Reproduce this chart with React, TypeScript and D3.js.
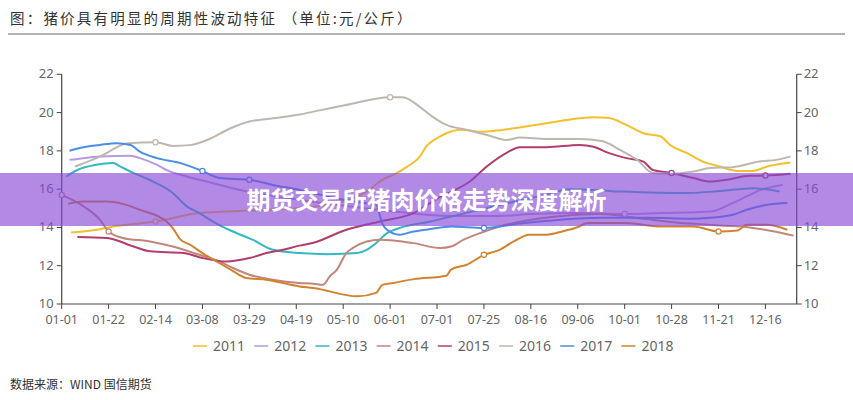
import React from 'react';
import * as d3 from 'd3';

const W = 853;
const H = 400;

// x axis: weekly category index, a label every 3 weeks
const dateLabels = ['01-01', '01-22', '02-14', '03-08', '03-29', '04-19', '05-10', '06-01',
  '07-01', '07-25', '08-16', '09-06', '10-01', '10-28', '11-21', '12-16'];
const labelStep = 3;
const lastWeek = 47;
const priceTicks = [10, 12, 14, 16, 18, 20, 22];

const years = ['2011', '2012', '2013', '2014', '2015', '2016', '2017', '2018'];
const colors = ['#f4c02c', '#b79be0', '#33b8c4', '#c3867a', '#b13e6b', '#bdb7af', '#4a8ee7', '#d2832e'];

// [week index, price yuan/kg]
const y2011: [number, number][] = [[0.6, 13.74], [2.45, 13.91], [3.3, 14.05], [6, 14.31], [8.8, 14.75], [13.1, 14.92],
  [16.3, 15.1], [19.5, 15.88], [20.5, 16.49], [21.2, 16.75], [22.1, 17.18], [22.9, 17.7], [23.3, 18.22], [24, 18.66],
  [24.6, 18.92], [25.5, 19.1], [26.8, 19.0], [27.8, 19.06], [28.9, 19.18], [31, 19.44], [33.1, 19.7], [34, 19.76],
  [35, 19.72], [36.1, 19.36], [37.2, 18.92], [38.3, 18.75], [38.9, 18.31], [40, 17.88], [41, 17.44], [42.1, 17.18],
  [43.2, 16.95], [44.2, 16.95], [45.1, 17.18], [46.6, 17.39]];
const y2012: [number, number][] = [[0.5, 17.53], [1.4, 17.62], [2.5, 17.7], [4.4, 17.75], [5, 17.62], [6.1, 17.27],
  [6.7, 17.0], [8, 16.66], [9.7, 16.31], [11.4, 15.96], [15.2, 15.44], [18.4, 15.1], [21.6, 14.8], [24.8, 14.6],
  [28, 14.6], [30, 14.7], [33, 14.75], [36.1, 14.7], [38.3, 14.75], [41.5, 14.83], [42.9, 15.27], [43.8, 15.62],
  [44.7, 15.96], [46.1, 16.22]];
const y2013: [number, number][] = [[0.3, 16.66], [1, 17.0], [2.2, 17.27], [3.3, 17.36], [3.7, 17.2], [4.6, 16.84],
  [5.6, 16.49], [7.1, 15.8], [8, 15.1], [8.8, 14.75], [9.9, 14.2], [10.9, 13.8], [12.2, 13.36], [13.5, 12.83],
  [15.2, 12.66], [17, 12.6], [18.9, 12.66], [19.5, 12.83], [20.1, 13.18], [20.8, 13.7], [21.6, 13.97], [23.5, 14.3],
  [26.1, 14.8], [28.7, 15.3], [30.9, 15.7], [32.5, 16.0], [35.7, 15.88], [40, 15.8], [42.1, 15.9], [44.2, 16.05],
  [45.9, 15.88]];
const y2014: [number, number][] = [[0, 15.7], [1.4, 15.1], [2.45, 14.4], [3, 13.79], [3.9, 13.45], [5.65, 13.27],
  [7.1, 13.0], [8.8, 12.57], [10.1, 12.22], [10.95, 11.88], [12, 11.53], [13.5, 11.27], [15.2, 11.1], [16.1, 11.06],
  [16.7, 11.0], [17.15, 11.45], [17.6, 11.8], [18.2, 12.66], [18.6, 12.92], [19.5, 13.27], [20.35, 13.36],
  [22.5, 13.18], [24.2, 12.92], [24.9, 13.0], [25.7, 13.36], [26.75, 13.7], [28, 14.05], [30, 14.4], [32, 14.6],
  [34.4, 14.7], [37.2, 14.45], [40.2, 14.2], [42, 14.1], [44, 14.0], [45.5, 13.8], [46.8, 13.57]];
const y2015: [number, number][] = [[1, 13.5], [2.9, 13.45], [4.6, 13.0], [5.65, 12.75], [7.8, 12.66], [9, 12.4],
  [10.55, 12.22], [12, 12.4], [13.1, 12.66], [14.15, 12.83], [15.2, 13.05], [16.1, 13.2], [18.2, 13.88],
  [20.35, 14.31], [22.5, 14.75], [24.2, 15.6], [25, 15.9], [26.1, 16.4], [27.2, 17.2], [28.45, 17.9], [29.3, 18.19],
  [31, 18.19], [33.1, 18.31], [34, 18.22], [35, 17.88], [36.1, 17.62], [37.2, 17.44], [37.8, 17.0], [39, 16.84],
  [40.4, 16.58], [41.45, 16.4], [42.5, 16.49], [44, 16.7], [45, 16.71], [46.6, 16.8]];
const y2016: [number, number][] = [[0.85, 17.18], [2.45, 17.7], [4.25, 18.4], [6, 18.45], [7.1, 18.26], [8.2, 18.3],
  [9.3, 18.57], [10.8, 19.18], [12, 19.53], [13.5, 19.7], [15.2, 19.9], [16.1, 20.05], [18.2, 20.4], [21, 20.8],
  [21.8, 20.8], [22.9, 20.3], [23.7, 19.79], [24.6, 19.36], [25.9, 19.1], [27.2, 18.83], [28.45, 18.57], [29.3, 18.7],
  [31, 18.62], [33.1, 18.62], [34.6, 18.5], [35.7, 18.05], [36.8, 17.53], [37.8, 16.84], [38.9, 16.8], [40.4, 16.92],
  [41.45, 17.1], [42.9, 17.15], [44.6, 17.44], [45.7, 17.53], [46.6, 17.7]];
const y2017: [number, number][] = [[0.5, 18.01], [1.4, 18.19], [2.45, 18.31], [3.5, 18.4], [4.4, 18.31], [5, 17.96],
  [6.1, 17.62], [7.6, 17.36], [9, 16.95], [10.1, 16.58], [12, 16.49], [13.5, 16.22], [15.2, 15.96], [17.1, 15.6],
  [19.1, 15.3], [20.1, 15.2], [20.5, 14.2], [20.8, 13.88], [21.6, 13.62], [22.5, 13.79], [23.5, 13.91], [24.9, 14.05],
  [27, 13.97], [29.3, 14.2], [31.9, 14.4], [34.4, 14.5], [37.6, 14.5], [40.2, 14.45], [41.45, 14.5], [42.9, 14.66],
  [43.8, 14.92], [45.1, 15.18], [46.4, 15.27]];
const y2018: [number, number][] = [[0.4, 15.23], [1.4, 15.35], [2.9, 15.35], [3.9, 15.23], [5, 14.92], [6.7, 14.31],
  [7.1, 13.97], [7.6, 13.36], [8.2, 13.1], [9, 12.66], [9.9, 12.22], [10.8, 11.8], [11.8, 11.36], [13.1, 11.27],
  [15.2, 10.92], [16.1, 10.84], [18.9, 10.4], [20.1, 10.58], [20.5, 11.0], [21.2, 11.1], [22.5, 11.3], [24.6, 11.48],
  [24.9, 11.8], [25.9, 12.05], [27, 12.57], [28, 12.83], [28.9, 13.27], [29.9, 13.62], [31, 13.62], [32, 13.79],
  [33.1, 14.05], [33.6, 14.23], [36.1, 14.23], [38.25, 14.05], [40.4, 14.05], [42, 13.79], [43.2, 13.84],
  [43.8, 14.14], [45.1, 14.14], [46.4, 13.88]];

const seriesData = [y2011, y2012, y2013, y2014, y2015, y2016, y2017, y2018];

// hollow symbols shown on some lines: [series index, week index]
const symbolPoints: [number, number][] = [[5, 6], [5, 21], [6, 9], [6, 12], [6, 27], [3, 0], [3, 3], [0, 6],
  [7, 27], [7, 42], [4, 39], [4, 45], [1, 36]];

const title = '图：猪价具有明显的周期性波动特征  （单位:元/公斤）';
const source = '数据来源：WIND 国信期货';
const banner = '期货交易所猪肉价格走势深度解析';

const x = d3.scaleLinear().domain([0, lastWeek]).range([61.7, 796.7]);
const y = d3.scaleLinear().domain([10, 22]).range([304, 74.3]);

const line = d3.line<[number, number]>()
  .x(d => x(d[0]))
  .y(d => y(d[1]))
  .curve(d3.curveMonotoneX);

function valueAt(s: [number, number][], w: number) {
  const i = d3.bisector((d: [number, number]) => d[0]).left(s, w);
  if (i <= 0) return s[0][1];
  if (i >= s.length) return s[s.length - 1][1];
  const a = s[i - 1], b = s[i];
  return a[1] + (b[1] - a[1]) * (w - a[0]) / (b[0] - a[0]);
}

const axisFont = '"Noto Sans", "DejaVu Sans", sans-serif';
const cjkFont = '"Noto Sans CJK SC", sans-serif';

export default function App() {
  const x0 = x.range()[0], x1 = x.range()[1];
  const yb = y(10), yt = y(22);
  return (
    <div style={{ position: 'absolute', left: 0, top: 0, background: '#fff' }}>
      <svg width={W} height={H} viewBox={`0 0 ${W} ${H}`}>
        <rect width={W} height={H} fill="#fff" />
        <text x={10} y={24} fontFamily={cjkFont} fontSize={14.5} fill="#333" letterSpacing={2.2}>{title}</text>
        <line x1={8} x2={845} y1={34} y2={34} stroke="#9a9a9a" strokeWidth={1.5} />

        {/* axes */}
        <g fontFamily={axisFont} fontSize={12.5} fill="#666">
          <line x1={x0} x2={x0} y1={yt} y2={yb} stroke="#444" strokeWidth={1.2} />
          <line x1={x1} x2={x1} y1={yt} y2={yb} stroke="#444" strokeWidth={1.2} />
          <line x1={x0} x2={x1} y1={yb} y2={yb} stroke="#444" strokeWidth={1.2} />
          {priceTicks.map(t => (
            <g key={t}>
              <line x1={x0 - 5} x2={x0} y1={y(t)} y2={y(t)} stroke="#444" />
              <text x={x0 - 8} y={y(t) + 4} textAnchor="end" fontSize={13}>{t}</text>
              <line x1={x1} x2={x1 + 5} y1={y(t)} y2={y(t)} stroke="#444" />
              <text x={x1 + 7} y={y(t) + 4} fontSize={13}>{t}</text>
            </g>
          ))}
          {dateLabels.map((d, i) => (
            <g key={d}>
              <line x1={x(i * labelStep)} x2={x(i * labelStep)} y1={yb} y2={yb + 5} stroke="#444" />
              <text x={x(i * labelStep)} y={324} textAnchor="middle">{d}</text>
            </g>
          ))}
        </g>

        {/* series */}
        {seriesData.map((s, i) => (
          <path key={years[i]} d={line(s) || ''} fill="none" stroke={colors[i]} strokeWidth={2}
            strokeLinejoin="round" />
        ))}
        {symbolPoints.map(([si, w], k) => (
          <circle key={k} cx={x(w)} cy={y(valueAt(seriesData[si], w))} r={2.6}
            fill="#fff" stroke={colors[si]} strokeWidth={1.2} />
        ))}

        {/* legend */}
        <g fontFamily={axisFont} fontSize={14} fill="#666">
          {years.map((yr, i) => {
            const lx = 193 + i * 61.2;
            return (
              <g key={yr}>
                <line x1={lx} x2={lx + 14} y1={346} y2={346} stroke={colors[i]} strokeWidth={2} opacity={0.75} />
                <text x={lx + 20} y={351}>{yr}</text>
              </g>
            );
          })}
        </g>

        <text x={10} y={389} fontFamily={cjkFont} fontSize={12} fill="#333">{source}</text>

        {/* overlay banner */}
        <rect x={0} y={173} width={W} height={53} fill="rgb(135, 72, 215)" opacity={0.64} />
        <text x={W / 2} y={209} textAnchor="middle" fontFamily={cjkFont} fontWeight={700}
          fontSize={24} fill="#fff">{banner}</text>
      </svg>
    </div>
  );
}
